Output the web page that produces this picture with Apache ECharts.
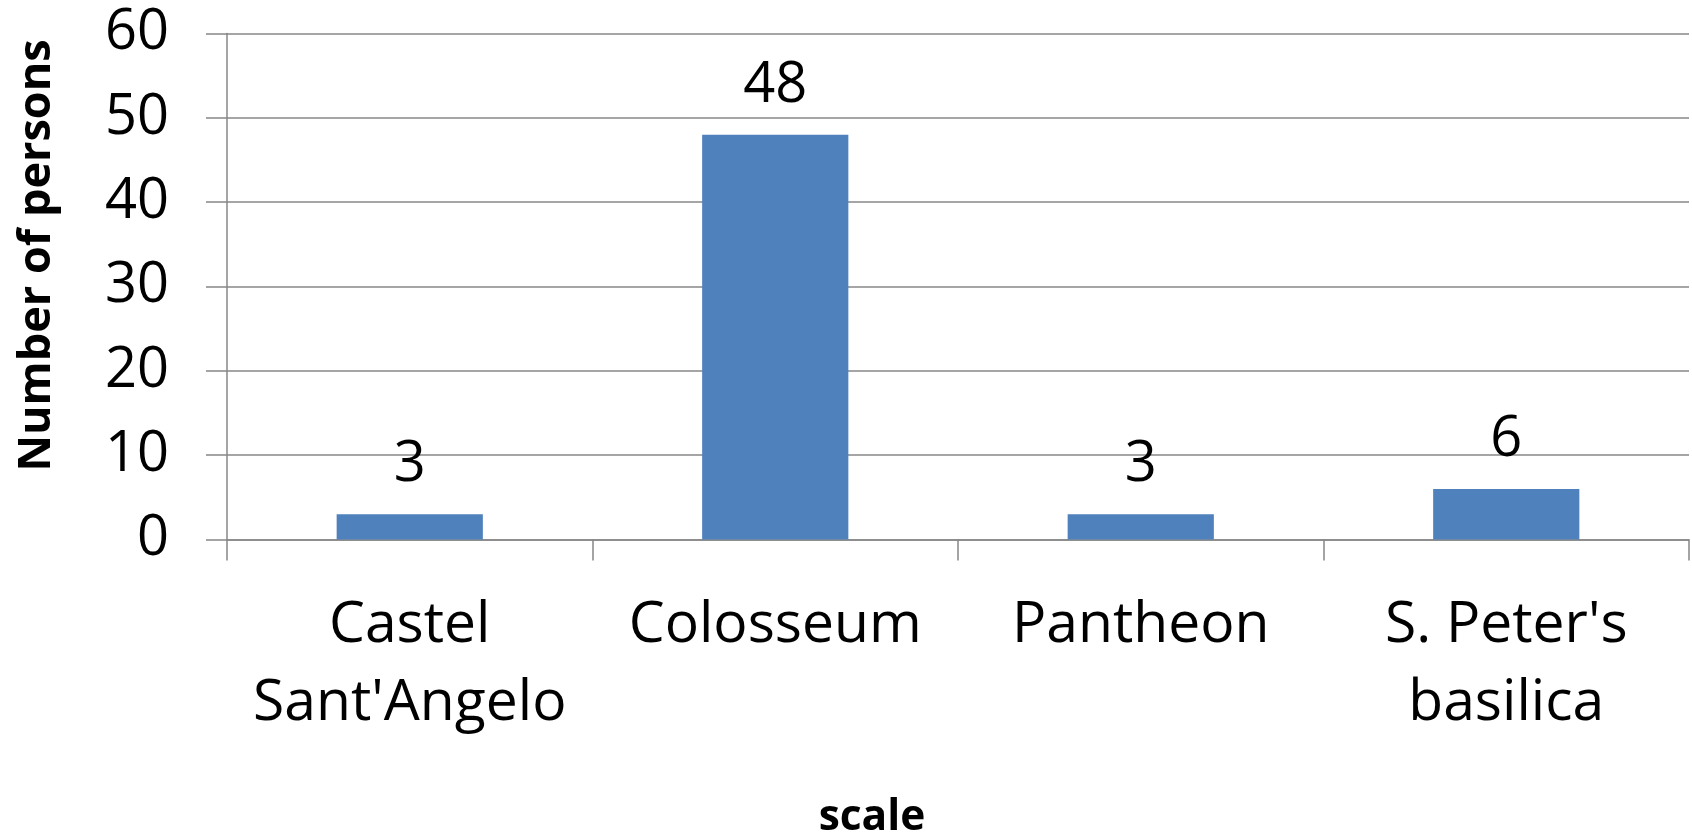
<!DOCTYPE html>
<html>
<head>
<meta charset="utf-8">
<script src="https://cdn.jsdelivr.net/npm/echarts@6/dist/echarts.min.js"></script>
<style>
html,body{margin:0;padding:0;background:#fff;}
#chart{width:1692px;height:834px;}
</style>
</head>
<body>
<div id="chart"></div>
<script>
const categories = ["Castel\nSant'Angelo", "Colosseum", "Pantheon", "S. Peter's\nbasilica"];
const persons = [3, 48, 3, 6];
const yTicks = { min: 0, max: 60, interval: 10 };
const yTitle = "Number of persons";
const xTitle = "scale";

const FONT = "Open Sans";
const gridColor = "#878787";

const chart = echarts.init(document.getElementById('chart'), null, { renderer: 'canvas' });
chart.setOption({
  backgroundColor: '#ffffff',
  animation: false,
  grid: { left: 227, right: 3, top: 33.5, height: 506, containLabel: false, outerBoundsMode: 'none' },
  xAxis: {
    type: 'category',
    data: categories,
    boundaryGap: true,
    axisLine: { show: true, lineStyle: { color: gridColor, width: 1.5 } },
    axisTick: { show: true, length: 21, alignWithLabel: false, lineStyle: { color: gridColor, width: 1.5 } },
    axisLabel: { fontFamily: FONT, fontSize: 57, color: '#000', lineHeight: 78, margin: 47, interval: 0 },
    name: xTitle,
    nameLocation: 'middle',
    nameGap: 257,
    nameTextStyle: { fontFamily: FONT, fontSize: 42.5, fontWeight: 'bold', color: '#000', padding: [0, 172, 0, 0] }
  },
  yAxis: {
    type: 'value',
    min: yTicks.min, max: yTicks.max, interval: yTicks.interval,
    axisLine: { show: true, lineStyle: { color: gridColor, width: 1.5 } },
    axisTick: { show: true, length: 21, inside: false, lineStyle: { color: gridColor, width: 1.5 } },
    splitLine: { show: true, lineStyle: { color: gridColor, width: 1.5 } },
    axisLabel: { fontFamily: FONT, fontSize: 56, color: '#000', margin: 58 },
    name: yTitle,
    nameLocation: 'middle',
    nameGap: 167,
    nameRotate: 90,
    nameTextStyle: { fontFamily: FONT, fontSize: 45, fontWeight: 'bold', color: '#000', padding: [0, 0, 0, 62] }
  },
  series: [{
    type: 'bar',
    data: persons,
    barWidth: '40%',
    itemStyle: { color: '#4F81BD' },
    label: { show: true, position: 'top', distance: 21, fontFamily: FONT, fontSize: 56, color: '#000' }
  }]
});
</script>
</body>
</html>
